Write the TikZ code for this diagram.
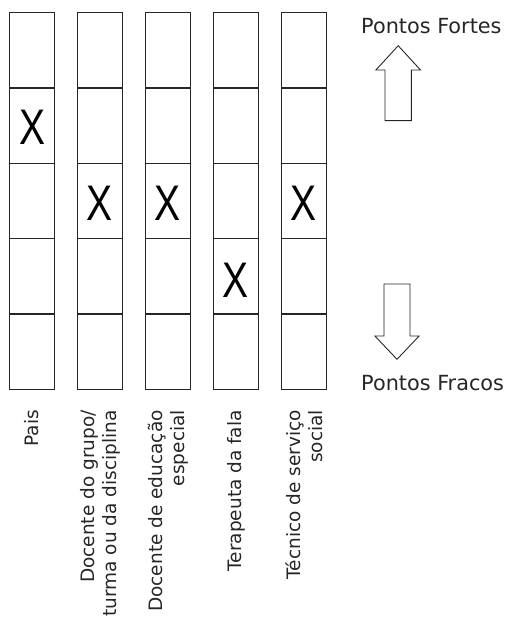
\documentclass[tikz,border=0pt]{standalone}
\usepackage{fontspec}
\setmainfont{DejaVu Sans}
\newfontfamily\markfont{Liberation Sans}
\begin{document}
\begin{tikzpicture}[x=1pt,y=-1pt,
  cell/.style={draw=black!85,line width=1.1pt},
  cross/.style={inner sep=0pt,anchor=base,font=\markfont\fontsize{50}{50}\selectfont},
  role/.style={rotate=90,anchor=east,inner sep=0pt,align=right,
    font=\fontsize{18.5}{22}\selectfont,text=black!85},
  pole/.style={inner sep=0pt,anchor=base west,
    font=\fontsize{20.8}{24}\selectfont,text=black!85},
  bigarrow/.style={draw=black!85,line width=0.9pt,line join=miter}]
\useasboundingbox (0,0) rectangle (511,617);

% five columns, each split into five cells
\foreach \c in {0,...,4}{
  \draw[cell] ({9.7+68*\c},12.7) rectangle ++(44.6,376.6);
  \foreach \r in {1,...,4}{
    \draw[cell] ({9.7+68*\c},{12.7+75.32*\r}) -- ++(44.6,0);
  }
}

% crosses
\node[cross] (m1) at (32.2,145.0) {\scalebox{0.78}[1]{X}};
\node[cross] (m2) at (99.9,221.0) {\scalebox{0.78}[1]{X}};
\node[cross] (m3) at (167.9,221.0) {\scalebox{0.78}[1]{X}};
\node[cross] (m4) at (235.9,297.3) {\scalebox{0.78}[1]{X}};
\node[cross] (m5) at (303.9,221.0) {\scalebox{0.78}[1]{X}};

% column captions
\node[role] (l1) at (31.5,410) {Pais};
\node[role] (l2) at (99.9,410) {Docente do grupo/\\turma ou da disciplina};
\node[role] (l3) at (167.9,410) {Docente de educação\\especial};
\node[role] (l4) at (235.9,410) {Terapeuta da fala};
\node[role] (l5) at (303.9,410) {Técnico de serviço\\social};

% strong / weak points
\node[pole] (pf) at (361,33.3) {Pontos Fortes};
\node[pole] (pw) at (361,390) {Pontos Fracos};

\draw[bigarrow] (385,120.7) -- (385,70) -- (375.9,70) -- (398.2,45.7)
  -- (420.5,70) -- (411.4,70) -- (411.4,120.7) -- cycle;
\draw[bigarrow] (384,284) -- (384,336) -- (374.9,336) -- (397,359.3)
  -- (419.1,336) -- (410,336) -- (410,284) -- cycle;
\end{tikzpicture}
\end{document}
